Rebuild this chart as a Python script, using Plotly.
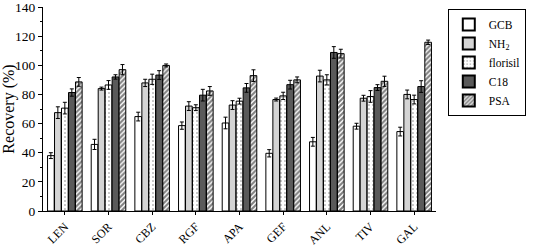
import plotly.graph_objects as go

categories = ["LEN", "SOR", "CBZ", "RGF", "APA", "GEF", "ANL", "TIV", "GAL"]
series_names = ["GCB", "NH<sub>2</sub>", "florisil", "C18", "PSA"]

gcb = [38, 45.7, 64.8, 58.6, 60.4, 39.6, 47.5, 58.2, 54.5]
nh2 = [67.5, 84, 87.9, 72, 72.7, 76.5, 92.6, 77.4, 80]
florisil = [70.6, 86.5, 90.4, 70.9, 75.4, 79, 90, 78.6, 76.5]
c18 = [81.3, 92, 93.3, 79.5, 84.5, 86.7, 108.8, 84.7, 85.4]
psa = [88.6, 97, 99.9, 82.4, 92.9, 90, 108, 89, 115.8]

gcb_err = [2, 3.5, 3, 2.5, 4, 2.5, 3, 2, 3]
nh2_err = [4, 1, 2.5, 3, 3, 1, 4, 2, 3]
florisil_err = [4, 3, 3.5, 2, 2, 2.5, 3.5, 4, 3]
c18_err = [2.5, 1.5, 3, 4, 3, 3, 4, 2, 4]
psa_err = [3, 3.5, 1, 3, 4, 2, 3, 3.5, 1.5]

values = [gcb, nh2, florisil, c18, psa]
errors = [gcb_err, nh2_err, florisil_err, c18_err, psa_err]
fills = ["white", "#d4d4d4", "white", "#5a5a5a", "white"]
patterns = [None, None, dict(shape=".", fgcolor="black", size=4, solidity=0.12),
            None, dict(shape="/", fgcolor="black", size=3.5, solidity=0.6)]

fig = go.Figure()
for name, v, e, f, p in zip(series_names, values, errors, fills, patterns):
    marker = dict(color=f, line=dict(color="black", width=1))
    if p:
        marker["pattern"] = p
    fig.add_trace(go.Bar(
        x=categories, y=v, name=name, marker=marker,
        error_y=dict(type="data", array=e, color="black", thickness=1, width=2),
    ))

font = "Liberation Serif, Times New Roman, serif"
fig.update_layout(
    width=533, height=246,
    margin=dict(l=43, r=76, t=7, b=35),
    paper_bgcolor="white", plot_bgcolor="white",
    barmode="group", bargap=0.2, bargroupgap=0.05,
    font=dict(family=font, size=12, color="black"),
    showlegend=True,
    legend=dict(x=1.03, y=0.99, xanchor="left", yanchor="top",
                bordercolor="black", borderwidth=1, bgcolor="white",
                font=dict(family=font, size=11.5, color="black"), tracegroupgap=0,
                itemwidth=30, itemsizing="constant"),
)
fig.update_yaxes(range=[0, 140], dtick=20, showgrid=False, zeroline=False,
                 showline=True, linecolor="black", linewidth=1,
                 ticks="outside", ticklen=4, tickcolor="black",
                 minor=dict(dtick=10, ticks="outside", ticklen=2, tickcolor="black"),
                 title=dict(text="Recovery (%)", font=dict(family=font, size=16, color="black"), standoff=2),
                 tickfont=dict(family=font, size=13.5, color="black"), automargin=False,
                 ticklabeloverflow="allow")
fig.update_xaxes(showgrid=False, showline=True, linecolor="black", linewidth=1,
                 ticks="outside", ticklen=3, tickcolor="black",
                 tickangle=-45, tickfont=dict(family=font, size=12, color="black"), automargin=False)

fig.write_html("out.html", config={"displayModeBar": False},
               post_script="document.body.style.margin='0';document.body.style.overflow='hidden';")
